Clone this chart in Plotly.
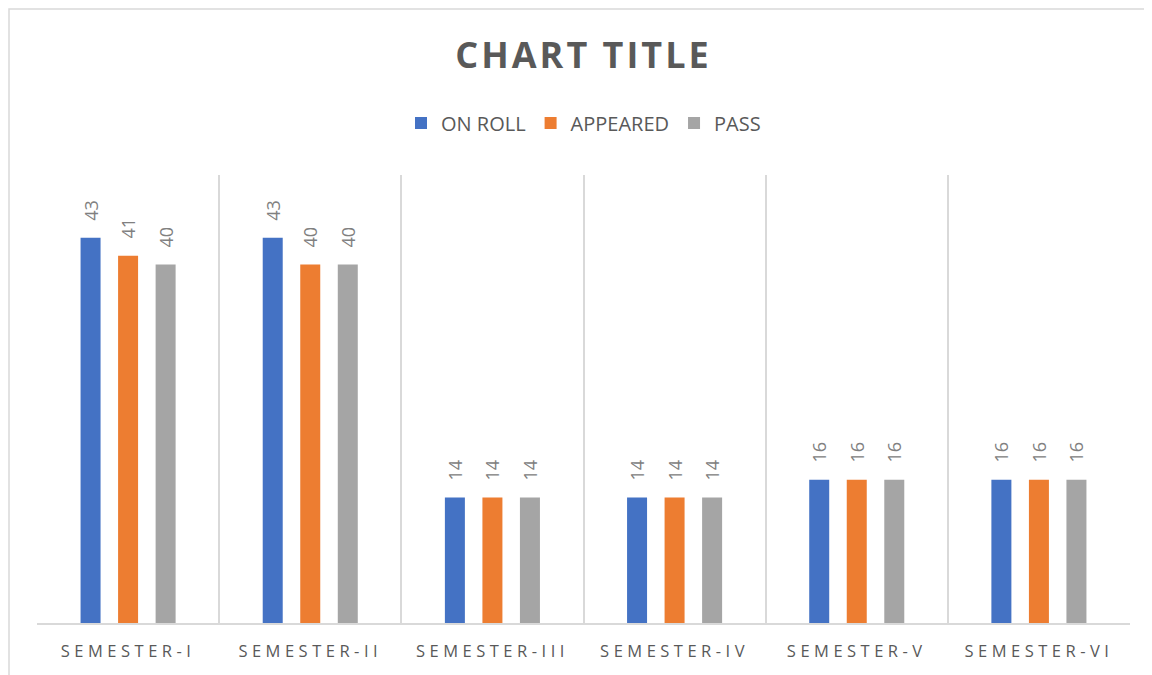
import plotly.graph_objects as go

semesters = ["SEMESTER-I", "SEMESTER-II", "SEMESTER-III", "SEMESTER-IV", "SEMESTER-V", "SEMESTER-VI"]
on_roll = [43, 43, 14, 14, 16, 16]
appeared = [41, 40, 14, 14, 16, 16]
passed = [40, 40, 14, 14, 16, 16]

series = [
    ("ON ROLL", on_roll, "#4472C4"),
    ("APPEARED", appeared, "#ED7D31"),
    ("PASS", passed, "#A5A5A5"),
]

FONT = "Open Sans"

# page body has an 8px margin; figure is placed at (8, 8)
OFF = 8
W, H = 1152 - OFF, 675 - OFF
L, R, T, B = 37 - OFF, 22, 175 - OFF, 52
PW, PH = W - L - R, H - T - B

fig = go.Figure()
for name, vals, color in series:
    fig.add_trace(go.Bar(
        name=name, x=semesters, y=vals, marker_color=color, marker_line_width=0,
        text=vals, texttemplate="\u00a0\u00a0\u00a0%{text}",
        textposition="outside", textangle=-90, cliponaxis=False, constraintext="none",
        textfont=dict(family=FONT, size=18, color="#808080"),
    ))

ticktext = ['<span style="letter-spacing:4.5px">%s</span>' % s for s in semesters]

fig.update_layout(
    width=W, height=H,
    margin=dict(l=L, r=R, t=T, b=B),
    paper_bgcolor="white", plot_bgcolor="white",
    barmode="group", bargap=0.382, bargroupgap=0.467,
    uniformtext=dict(mode=False),
    title=dict(
        text='<span style="letter-spacing:3px"><b>CHART TITLE</b></span>',
        font=dict(family=FONT, size=36, color="#595959"),
        x=0.5, xref="paper", xanchor="center",
        y=1 - (55 - OFF) / H, yref="container", yanchor="middle",
    ),
    legend=dict(
        orientation="h", x=0.5, xanchor="center", y=1 + (175 - 123) / PH, yanchor="middle",
        font=dict(family=FONT, size=20, color="#595959"),
        itemclick=False, traceorder="normal",
    ),
    xaxis=dict(
        tickmode="array", tickvals=semesters, ticktext=ticktext,
        tickson="boundaries", ticks="", showgrid=True, gridcolor="#D9D9D9", gridwidth=1.5,
        showline=True, linecolor="#D9D9D9", linewidth=1.5,
        tickfont=dict(family=FONT, size=16.5, color="#595959"),
        ticklabelstandoff=12,
    ),
    yaxis=dict(visible=False, range=[0, 50]),
    shapes=[dict(
        type="rect", xref="paper", yref="paper",
        x0=(OFF + 1 - 37) / PW, x1=(1170 - 37) / PW,
        y0=-(690 - 623) / PH, y1=1 + (175 - 9) / PH,
        line=dict(color="#D9D9D9", width=1.5), fillcolor="rgba(0,0,0,0)", layer="below",
    )],
)

fig.write_html("out.html")
